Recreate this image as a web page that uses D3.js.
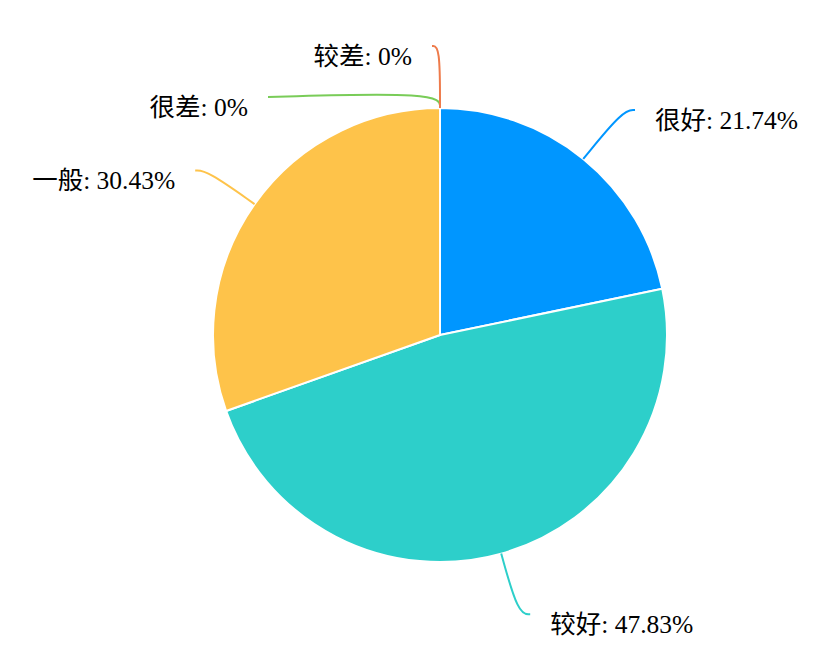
<!DOCTYPE html>
<html><head><meta charset="utf-8">
<script src="https://cdn.jsdelivr.net/npm/d3@7"></script>
<style>html,body{margin:0;padding:0;background:#fff;}</style>
</head><body>
<svg id="chart" width="836" height="668"></svg>
<script>
// ---- data ----
const categories = ["很好", "较好", "一般", "很差", "较差"];
const values = [21.74, 47.83, 30.43, 0, 0];
const labelTexts = ["很好: 21.74%", "较好: 47.83%", "一般: 30.43%", "很差: 0%", "较差: 0%"];
const colors = ["#0096FF", "#2DCFCA", "#FEC34A", "#79CC58", "#EE7B4B"];

// ---- layout ----
const W = 836, H = 668;
const cx = 440, cy = 335, R = 227;
const fontFamily = '"Liberation Serif", "Times New Roman", "Noto Sans CJK SC", serif';
const fontSize = 25.5;
// leader layout per slice: radial length, horizontal length, extra y shift of line end, side
const leader = [
  {len1: 63, len2: 12, dy3: 0, side: 1},
  {len1: 63, len2: 12, dy3: 0, side: 1},
  {len1: 58, len2: 12, dy3: 0, side: -1},
  {len1: 16, len2: 172, dy3: 5, side: -1},
  {len1: 62, len2: 8, dy3: 0, side: -1}
];
const textGap = 20, textDy = 10;

const svg = d3.select("#chart");
const g = svg.append("g").attr("transform", `translate(${cx},${cy})`);

const pie = d3.pie().sort(null).value(d => d).startAngle(0).endAngle(2 * Math.PI);
const arcs = pie(values);
const arc = d3.arc().innerRadius(0).outerRadius(R);

g.selectAll("path.slice").data(arcs).enter().append("path")
  .attr("class", "slice")
  .attr("d", arc)
  .attr("fill", (d, i) => colors[i])
  .attr("stroke", "#fff")
  .attr("stroke-width", 2)
  .attr("stroke-linejoin", "round");

const polar = (a, r) => [r * Math.sin(a), -r * Math.cos(a)];
const line = d3.line().curve(d3.curveBasis);

arcs.forEach((d, i) => {
  const a = (d.startAngle + d.endAngle) / 2;
  const L = leader[i];
  const p1 = polar(a, R);
  const p2 = polar(a, R + L.len1);
  const p3 = [p2[0] + L.side * L.len2, p2[1] + L.dy3];
  g.append("path")
    .attr("d", line([p1, p2, p3]))
    .attr("fill", "none")
    .attr("stroke", colors[i])
    .attr("stroke-width", 2);
  g.append("text")
    .attr("x", p3[0] + L.side * textGap)
    .attr("y", p3[1] + textDy)
    .attr("dominant-baseline", "central")
    .attr("text-anchor", L.side > 0 ? "start" : "end")
    .attr("font-family", fontFamily)
    .attr("font-size", fontSize)
    .attr("fill", "#000")
    .text(labelTexts[i]);
});
</script>
</body></html>
